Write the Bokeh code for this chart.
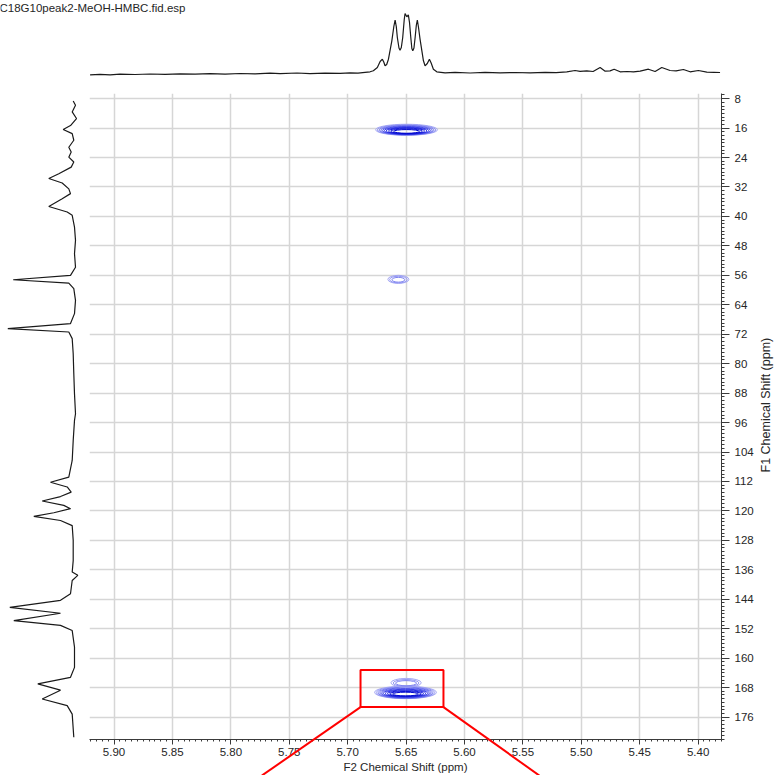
from bokeh.plotting import figure
from bokeh.models import Range1d, FixedTicker, Label, Title, NumeralTickFormatter, ColumnDataSource
from bokeh.transform import linear_cmap
from bokeh.layouts import column, row
from bokeh.embed import file_html
from bokeh.resources import INLINE

# ---------------- data ----------------
file_title = "C18G10peak2-MeOH-HMBC.fid.esp"
f2_title = "F2 Chemical Shift (ppm)"
f1_title = "F1 Chemical Shift (ppm)"

f2_ticks = [5.90, 5.85, 5.80, 5.75, 5.70, 5.65, 5.60, 5.55, 5.50, 5.45, 5.40]
f1_ticks = [8, 16, 24, 32, 40, 48, 56, 64, 72, 80, 88, 96, 104, 112, 120,
            128, 136, 144, 152, 160, 168, 176]

# 1H projection (F2): chemical shift (ppm) and intensity
h1_ppm = [5.9205, 5.9120, 5.9034, 5.8949, 5.8821, 5.8692, 5.8564, 5.8436, 5.8308,
          5.8179, 5.8051, 5.7923, 5.7795, 5.7667, 5.7581, 5.7436, 5.7325, 5.7197,
          5.7068, 5.6983, 5.6915, 5.6855, 5.6812, 5.6784, 5.6750, 5.6726, 5.6707,
          5.6695, 5.6684, 5.6670, 5.6655, 5.6626, 5.6609, 5.6598, 5.6588, 5.6579,
          5.6565, 5.6556, 5.6545, 5.6533, 5.6520, 5.6513, 5.6498, 5.6485, 5.6475,
          5.6464, 5.6455, 5.6447, 5.6437, 5.6427, 5.6417, 5.6408, 5.6398, 5.6385,
          5.6356, 5.6342, 5.6323, 5.6305, 5.6290, 5.6271, 5.6242,
          5.6171, 5.6085, 5.5957, 5.5829, 5.5701, 5.5573, 5.5444,
          5.5316, 5.5222, 5.5131, 5.5060, 5.5017, 5.4960, 5.4906, 5.4846, 5.4803,
          5.4761, 5.4726, 5.4675, 5.4615, 5.4561, 5.4504, 5.4433, 5.4376, 5.4319,
          5.4248, 5.4197, 5.4134, 5.4077, 5.4006, 5.3934, 5.3872, 5.3821]
h1_int = [-2.3, -1.8, -2.3, -1.6, -2.0, -1.5, -1.9, -1.3, -1.7,
          -1.2, -1.6, -1.0, -1.4, -0.6, -1.2, -0.5, -1.1, -0.6,
          -0.9, -0.4, -0.6, 0.2, 0.7, 1.7, 5.0, 11.0, 13.3,
          10.5, 6.7, 8.0, 13.3, 31.7, 46.0, 52.3, 46.0, 35.0,
          24.5, 22.3, 25.0, 35.0, 53.0, 59.0, 55.7, 57.7, 50.0,
          35.0, 24.0, 21.7, 24.5, 35.0, 47.0, 52.3, 45.0, 33.3,
          11.7, 6.7, 9.0, 13.3, 9.5, 3.3, 0.7,
          -0.4, 0.2, -0.5, 0.1, -0.4, 0.0, -0.3,
          0.1, -0.2, 0.7, 2.0, 1.2, 1.7, 1.0, 5.0, 1.3,
          1.6, 3.3, 0.7, 1.0, 0.7, 1.4, 3.3, 1.0, 5.0,
          2.0, 1.6, 3.0, 0.7, 2.0, 0.3, 0.2, 0.0]

# 13C projection (F1): chemical shift (ppm) and intensity
c13_ppm = [8.65, 9.8, 11.6, 13.4, 15.3, 16.4, 17.5, 19.3, 21.2, 22.5, 23.9, 25.2,
           26.6, 28.4, 29.7, 30.9, 32.5, 33.8, 35.2, 37.3, 38.8, 39.7, 42.9, 46.5,
           50.1, 53.8, 56.0, 57.2, 58.1, 59.6, 62.8, 66.4, 69.1, 70.5, 71.4, 73.2,
           77.3, 82.7, 88.2, 93.6, 95.4, 100.9, 106.3, 110.8, 112.2, 113.5, 114.9,
           116.1, 117.3, 118.5, 119.4, 120.5, 121.5, 122.6, 124.0, 128.0, 133.5,
           136.6, 137.5, 138.9, 142.5, 144.3, 146.2, 147.8, 149.8, 151.1, 152.5,
           157.0, 162.5, 165.2, 167.0, 168.7, 171.1, 172.9, 175.2, 181.5]
c13_int = [0.3, -2.0, 1.3, -3.0, 3.0, 10.3, 1.3, -0.3, 4.7, 2.3, 4.7, -0.3,
           2.3, 14.7, 24.7, 11.3, 4.7, 3.0, 11.3, 24.7, 6.3, 1.3, -1.0, -2.0,
           -1.0, -2.0, 3.0, 60.3, 4.7, -0.3, -2.0, -1.0, 3.0, 65.7, 4.7, 1.3,
           0.3, -0.3, -1.0, -2.0, -1.0, 0.3, 1.3, 4.7, 23.0, 6.3, 2.3,
           13.0, 31.3, 9.7, 3.0, 19.7, 39.7, 13.0, 1.3, 0.3, 0.3,
           1.3, -4.3, 1.3, 3.0, 13.0, 63.7, 13.0, 59.7, 13.0, 1.3,
           -1.0, -1.0, 3.0, 35.7, 13.0, 31.3, 6.3, 1.3, -0.3]

# HMBC cross-peak contours: centre (F2, F1), extent (ppm) and contour level
ring_f2 = [5.6496] * 10 + [5.6566] * 3 + [5.6505] * 10 + [5.6500] * 3
ring_f1 = [16.45, 16.50, 16.55, 16.60, 16.65, 16.70, 16.75, 16.80, 16.85, 16.90,
           57.1, 57.15, 57.2,
           169.30, 169.35, 169.40, 169.45, 169.50, 169.55, 169.60, 169.65, 169.70, 169.75,
           166.7, 166.75, 166.8]
ring_w = [0.053, 0.050, 0.047, 0.044, 0.041, 0.038, 0.035, 0.031, 0.027, 0.022,
          0.018, 0.015, 0.011,
          0.053, 0.050, 0.047, 0.044, 0.041, 0.038, 0.035, 0.031, 0.027, 0.022,
          0.026, 0.022, 0.018]
ring_h = [3.0, 2.8, 2.6, 2.4, 2.2, 2.0, 1.8, 1.6, 1.3, 1.0,
          2.2, 1.8, 1.3,
          3.4, 3.2, 3.0, 2.8, 2.5, 2.2, 1.9, 1.6, 1.3, 1.0,
          2.4, 1.9, 1.4]
ring_level = [1, 2, 3, 4, 5, 6, 7, 8, 9, 10,
              1, 2, 3,
              1, 2, 3, 4, 5, 6, 7, 8, 9, 10,
              1, 2, 3]

# highlighted region (F2 left/right, F1 top/bottom) and its lead-out lines
zoom_f2 = [5.689, 5.618]
zoom_f1 = [163.2, 173.3]
lead_end_f2 = [5.7735, 5.5359]
lead_end_f1 = 191.9

# ---------------- styling ----------------
FONT = "Liberation Sans"
TEXT = "#262626"
AXIS = "#3a3a3a"
GRID = "#d6d6d6"
TRACE = "#1a1a1a"
BLUES = ["#a6a9f5", "#9296f3", "#7d82f1", "#686def", "#5258ec",
         "#3c42e8", "#2a30e4", "#1a20de", "#0c12d6", "#0006cc"]

# panel geometry (pixels)
W, H_TOP, H_MAIN = 774, 93, 682
LEFT_W, FRAME_W, BOTTOM_B = 89, 633, 36
RIGHT_B = 34                              # F1 tick labels
STRIP_W = W - LEFT_W - FRAME_W - RIGHT_B  # F1 axis title
F1_TITLE_RISE = 267                       # title start, measured up from the frame bottom

x_rng = Range1d(5.921, 5.380)
y_rng = Range1d(182.1, 6.6)

# the top strip spans the whole width, so widen its F2 range by the side borders
ppm_per_px = (x_rng.start - x_rng.end) / FRAME_W
top_x = Range1d(x_rng.start + LEFT_W * ppm_per_px,
                x_rng.end - (W - LEFT_W - FRAME_W) * ppm_per_px)

# ---------------- top projection ----------------
top = figure(width=W, height=H_TOP, x_range=top_x, y_range=Range1d(-21, 72),
             x_axis_location=None, y_axis_location=None, toolbar_location=None,
             output_backend="svg", min_border=0)
top.outline_line_color = None
top.grid.visible = False
top.line(h1_ppm, h1_int, line_color=TRACE, line_width=1.2)
top.add_layout(Label(x=-1, y=H_TOP - 1, x_units="screen", y_units="screen",
                     text=file_title, text_font=FONT, text_font_size="11.5px",
                     text_color=TEXT, text_baseline="top", text_align="left"))

# ---------------- left projection ----------------
left = figure(width=LEFT_W, height=H_MAIN, x_range=Range1d(73, -16), y_range=y_rng,
              x_axis_location=None, y_axis_location=None, toolbar_location=None,
              output_backend="svg", min_border_left=0, min_border_right=0,
              min_border_top=0, min_border_bottom=BOTTOM_B)
left.outline_line_color = None
left.grid.visible = False
left.line(c13_int, c13_ppm, line_color=TRACE, line_width=1.2)

# ---------------- 2D map ----------------
p = figure(width=FRAME_W + RIGHT_B, height=H_MAIN, x_range=x_rng, y_range=y_rng,
           x_axis_location="below", y_axis_location="right",
           toolbar_location=None, output_backend="svg",
           min_border_left=0, min_border_right=RIGHT_B,
           min_border_top=0, min_border_bottom=BOTTOM_B)
p.outline_line_color = None

p.xaxis.ticker = FixedTicker(ticks=f2_ticks,
                             minor_ticks=[round(5.38 + 0.005 * i, 3) for i in range(110)])
p.yaxis.ticker = FixedTicker(ticks=f1_ticks, minor_ticks=list(range(7, 183)))
p.xaxis.formatter = NumeralTickFormatter(format="0.00")
p.yaxis.formatter = NumeralTickFormatter(format="0")

p.xgrid.grid_line_color = GRID
p.ygrid.grid_line_color = GRID
p.xgrid.grid_line_width = 1.5
p.ygrid.grid_line_width = 1.5

for ax in (p.xaxis[0], p.yaxis[0]):
    ax.axis_line_color = AXIS
    ax.major_tick_line_color = AXIS
    ax.minor_tick_line_color = AXIS
    ax.major_tick_in = 0
    ax.minor_tick_in = 0
    ax.major_label_text_font = FONT
    ax.major_label_text_font_size = "11.5px"
    ax.major_label_text_color = TEXT

p.xaxis.axis_label = f2_title
p.xaxis.axis_label_text_font = FONT
p.xaxis.axis_label_text_font_size = "11.5px"
p.xaxis.axis_label_text_font_style = "normal"
p.xaxis.axis_label_text_color = TEXT
p.xaxis.major_tick_out = 5
p.xaxis.minor_tick_out = 2
p.xaxis.major_label_standoff = 3
p.xaxis.axis_label_standoff = 2

p.yaxis.major_tick_out = 8
p.yaxis.minor_tick_out = 3
p.yaxis.major_label_standoff = 5

rings = ColumnDataSource(dict(x=ring_f2, y=ring_f1, w=ring_w, h=ring_h, lvl=ring_level))
p.ellipse(x="x", y="y", width="w", height="h", source=rings, fill_color=None,
          line_color=linear_cmap("lvl", BLUES, 1, 10), line_width=1)

p.quad(left=[zoom_f2[0]], right=[zoom_f2[1]], top=[zoom_f1[0]], bottom=[zoom_f1[1]],
       fill_color=None, line_color="#ff0000", line_width=2)
# lead-out lines run past the frame, over the F2 axis
p.segment(x0=zoom_f2, y0=[zoom_f1[1]] * 2, x1=lead_end_f2, y1=[lead_end_f1] * 2,
          line_color="#ff0000", line_width=2, level="overlay")

# ---------------- F1 axis title strip (reads bottom to top) ----------------
strip = figure(width=STRIP_W, height=H_MAIN, x_axis_location=None, y_axis_location=None,
               toolbar_location=None, output_backend="svg",
               min_border_left=0, min_border_right=0,
               min_border_top=0, min_border_bottom=BOTTOM_B)
strip.outline_line_color = None
strip.grid.visible = False
strip.add_layout(Title(text=f1_title, align="left", offset=F1_TITLE_RISE,
                       text_font=FONT, text_font_size="12.5px", text_font_style="normal",
                       text_color=TEXT, standoff=0), "left")

layout = column(top, row(left, p, strip))
open("out.html", "w").write(file_html(layout, INLINE))
